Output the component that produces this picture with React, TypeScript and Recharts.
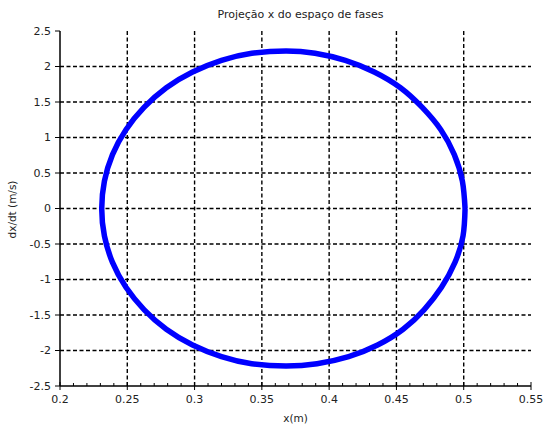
import React from 'react';
import {
  LineChart,
  Line,
  XAxis,
  YAxis,
  CartesianGrid,
} from 'recharts';

// Phase-space orbit (x in m, dx/dt in m/s)
const posX = [
  0.501, 0.499, 0.493, 0.483, 0.469, 0.453, 0.4335, 0.412, 0.3895, 0.368,
  0.3425, 0.32, 0.2985, 0.279, 0.2626, 0.249, 0.239, 0.233, 0.231,
  0.233, 0.239, 0.249, 0.2626, 0.279, 0.2985, 0.32, 0.3425, 0.368,
  0.391, 0.4145, 0.436, 0.455, 0.4705, 0.4835, 0.4935, 0.4995, 0.501,
];
const velX = [
  0, 0.386, 0.759, 1.11, 1.427, 1.701, 1.923, 2.087, 2.187, 2.22,
  2.187, 2.087, 1.923, 1.701, 1.427, 1.11, 0.759, 0.386, 0,
  -0.386, -0.759, -1.11, -1.427, -1.701, -1.923, -2.087, -2.187, -2.22,
  -2.187, -2.087, -1.923, -1.701, -1.427, -1.11, -0.759, -0.386, 0,
];

const xTicks = [
  0.2, 0.21, 0.22, 0.23, 0.24, 0.25, 0.26, 0.27, 0.28, 0.29,
  0.3, 0.31, 0.32, 0.33, 0.34, 0.35, 0.36, 0.37, 0.38, 0.39,
  0.4, 0.41, 0.42, 0.43, 0.44, 0.45, 0.46, 0.47, 0.48, 0.49,
  0.5, 0.51, 0.52, 0.53, 0.54, 0.55,
];
const xMajor = [0.2, 0.25, 0.3, 0.35, 0.4, 0.45, 0.5, 0.55];
const xGrid = [0.25, 0.3, 0.35, 0.4, 0.45, 0.5];
const yTicks = [-2.5, -2, -1.5, -1, -0.5, 0, 0.5, 1, 1.5, 2, 2.5];
const yGrid = [-2, -1.5, -1, -0.5, 0, 0.5, 1, 1.5, 2];

const data = posX.map((x, i) => ({ x, v: velX[i] }));

const FONT = '"DejaVu Sans", sans-serif';
const TXT = '#222';

const XTick = (props: any) => {
  const { x, y, payload } = props;
  const axisY = y - 8;
  const isMajor = xMajor.some((m) => Math.abs(m - payload.value) < 1e-6);
  if (!isMajor) {
    return <line x1={x} x2={x} y1={axisY} y2={axisY - 3} stroke="#000" strokeWidth={1} />;
  }
  return (
    <g>
      <line x1={x} x2={x} y1={axisY - 4} y2={axisY + 4} stroke="#000" strokeWidth={1} />
      <text x={x} y={y} dy={9} textAnchor="middle" fontSize={11} fontFamily={FONT} fill={TXT}>
        {String(payload.value)}
      </text>
    </g>
  );
};

const App: React.FC = () => (
  <div style={{ position: 'absolute', left: 0, top: 0, width: 543, height: 428, background: '#fff' }}>
    <div
      style={{
        position: 'absolute',
        left: 0,
        width: 601,
        top: 8,
        textAlign: 'center',
        fontFamily: FONT,
        fontSize: 11,
        color: TXT,
      }}
    >
      Projeção x do espaço de fases
    </div>
    <LineChart
      width={543}
      height={428}
      data={data}
      margin={{ top: 31, right: 12, left: 10, bottom: 12 }}
    >
      <CartesianGrid
        stroke="#000"
        strokeWidth={1.4}
        strokeDasharray="4 2.5"
        verticalValues={xGrid}
        horizontalValues={yGrid}
      />
      <XAxis
        dataKey="x"
        type="number"
        domain={[0.2, 0.55]}
        ticks={xTicks}
        interval={0}
        allowDataOverflow
        height={30}
        tickSize={4}
        tickMargin={4}
        tickLine={false}
        axisLine={{ stroke: '#000', strokeWidth: 1.5 }}
        tick={<XTick />}
        label={{ value: 'x(m)', position: 'insideBottom', offset: -6, fontSize: 10.5, fontFamily: FONT, fill: TXT }}
      />
      <XAxis
        xAxisId="top"
        dataKey="x"
        type="number"
        orientation="top"
        domain={[0.2, 0.55]}
        height={0}
        tick={false}
        tickLine={false}
        axisLine={{ stroke: '#000', strokeWidth: 1.5 }}
      />
      <YAxis
        type="number"
        domain={[-2.5, 2.5]}
        ticks={yTicks}
        interval={0}
        width={50}
        tickSize={5}
        tickMargin={4}
        tickLine={{ stroke: '#000' }}
        axisLine={{ stroke: '#000', strokeWidth: 1.5 }}
        tick={{ fontSize: 11, fontFamily: FONT, fill: TXT }}
        label={{ value: 'dx/dt (m/s)', angle: -90, position: 'insideLeft', offset: 2, dy: 30, fontSize: 10.5, fontFamily: FONT, fill: TXT }}
      />
      <YAxis
        yAxisId="right"
        orientation="right"
        type="number"
        domain={[-2.5, 2.5]}
        width={0}
        tick={false}
        tickLine={false}
        axisLine={{ stroke: '#000', strokeWidth: 1.5 }}
      />
      <Line
        dataKey="v"
        type="natural"
        stroke="#0000ff"
        strokeWidth={5.5}
        dot={false}
        isAnimationActive={false}
      />
    </LineChart>
  </div>
);

export default App;
